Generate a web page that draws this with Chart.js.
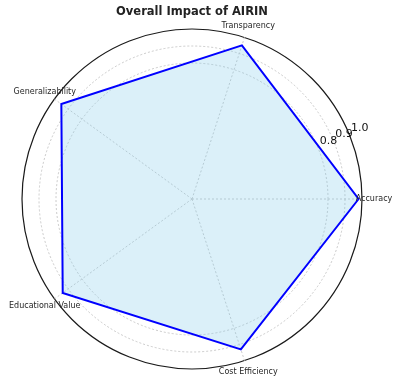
<!DOCTYPE html>
<html>
<head>
<meta charset="utf-8">
<script src="https://cdn.jsdelivr.net/npm/chart.js@4"></script>
<style>
  html, body { margin: 0; padding: 0; background: #fff; }
  #wrap { width: 400px; height: 384px; }
</style>
</head>
<body>
<div id="wrap"><canvas id="c" width="400" height="384"></canvas></div>
<script>
// Categories in counter-clockwise order starting at the right (as in the reference)
const categories = ["Accuracy", "Transparency", "Generalizability", "Educational Value", "Cost Efficiency"];
const scores = [0.98, 0.95, 0.95, 0.94, 0.93];
const tickValues = [0.8, 0.9, 1.0];
const tickLabels = ["0.8", "0.9", "1.0"];
const chartTitle = "Overall Impact of AIRIN";

// Chart.js radar goes clockwise; reorder so index 0 stays at the right and the rest run counter-clockwise
const order = [0].concat(categories.map((_, i) => i).slice(1).reverse());
const cjLabels = order.map(i => categories[i]);
const cjData = order.map(i => scores[i]);

const FONT = "'DejaVu Sans', sans-serif";

const labelPlugin = {
  id: 'labelPlugin',
  afterDraw(chart) {
    const r = chart.scales.r;
    const ctx = chart.ctx;
    ctx.save();
    // category labels
    ctx.font = "8px " + FONT;
    ctx.fillStyle = "#262626";
    ctx.textAlign = "center";
    ctx.textBaseline = "middle";
    cjLabels.forEach((lab, i) => {
      const p = r.getPointPosition(i, r.drawingArea + 12);
      ctx.fillText(lab, p.x, p.y);
    });
    // radial tick labels at 22.5 degrees
    ctx.font = "11px " + FONT;
    ctx.fillStyle = "#111";
    ctx.textAlign = "left";
    ctx.textBaseline = "alphabetic";
    const a = 22.5 * Math.PI / 180;
    tickValues.forEach((v, k) => {
      const d = r.getDistanceFromCenterForValue(v);
      const x = r.xCenter + d * Math.cos(a);
      const y = r.yCenter - d * Math.sin(a);
      ctx.fillText(tickLabels[k], x + 2, y - 3);
    });
    ctx.restore();
  }
};

new Chart(document.getElementById('c'), {
  type: 'radar',
  data: {
    labels: cjLabels,
    datasets: [{
      data: cjData,
      borderColor: '#0000ff',
      borderWidth: 2,
      backgroundColor: 'rgba(135,206,235,0.3)',
      fill: true,
      pointRadius: 0,
      pointHoverRadius: 0,
      tension: 0
    }]
  },
  options: {
    responsive: false,
    animation: false,
    devicePixelRatio: 1,
    layout: { padding: { left: 22, right: 38, top: 0, bottom: 15 } },
    plugins: {
      legend: { display: false },
      tooltip: { enabled: false },
      title: {
        display: true,
        text: chartTitle,
        color: '#222',
        font: { family: FONT, size: 11.5, weight: 'bold', lineHeight: 1.2 },
        padding: { top: 5.4, bottom: 9.8 }
      }
    },
    scales: {
      r: {
        min: 0,
        max: 1,
        startAngle: 90,
        afterBuildTicks(scale) {
          scale.ticks = [0].concat(tickValues).map(v => ({ value: v }));
        },
        ticks: { display: false },
        pointLabels: { display: false },
        grid: {
          circular: true,
          color: ctx => (ctx.tick && ctx.tick.value >= 1) ? '#1a1a1a' : '#c4c4c4',
          lineWidth: ctx => (ctx.tick && ctx.tick.value >= 1) ? 1.2 : 0.9
        },
        border: {
          dash: ctx => (ctx.tick && ctx.tick.value >= 1) ? [] : [2, 2]
        },
        angleLines: {
          color: '#c4c4c4',
          lineWidth: 0.9,
          borderDash: [2, 2]
        }
      }
    }
  },
  plugins: [labelPlugin]
});
</script>
</body>
</html>
